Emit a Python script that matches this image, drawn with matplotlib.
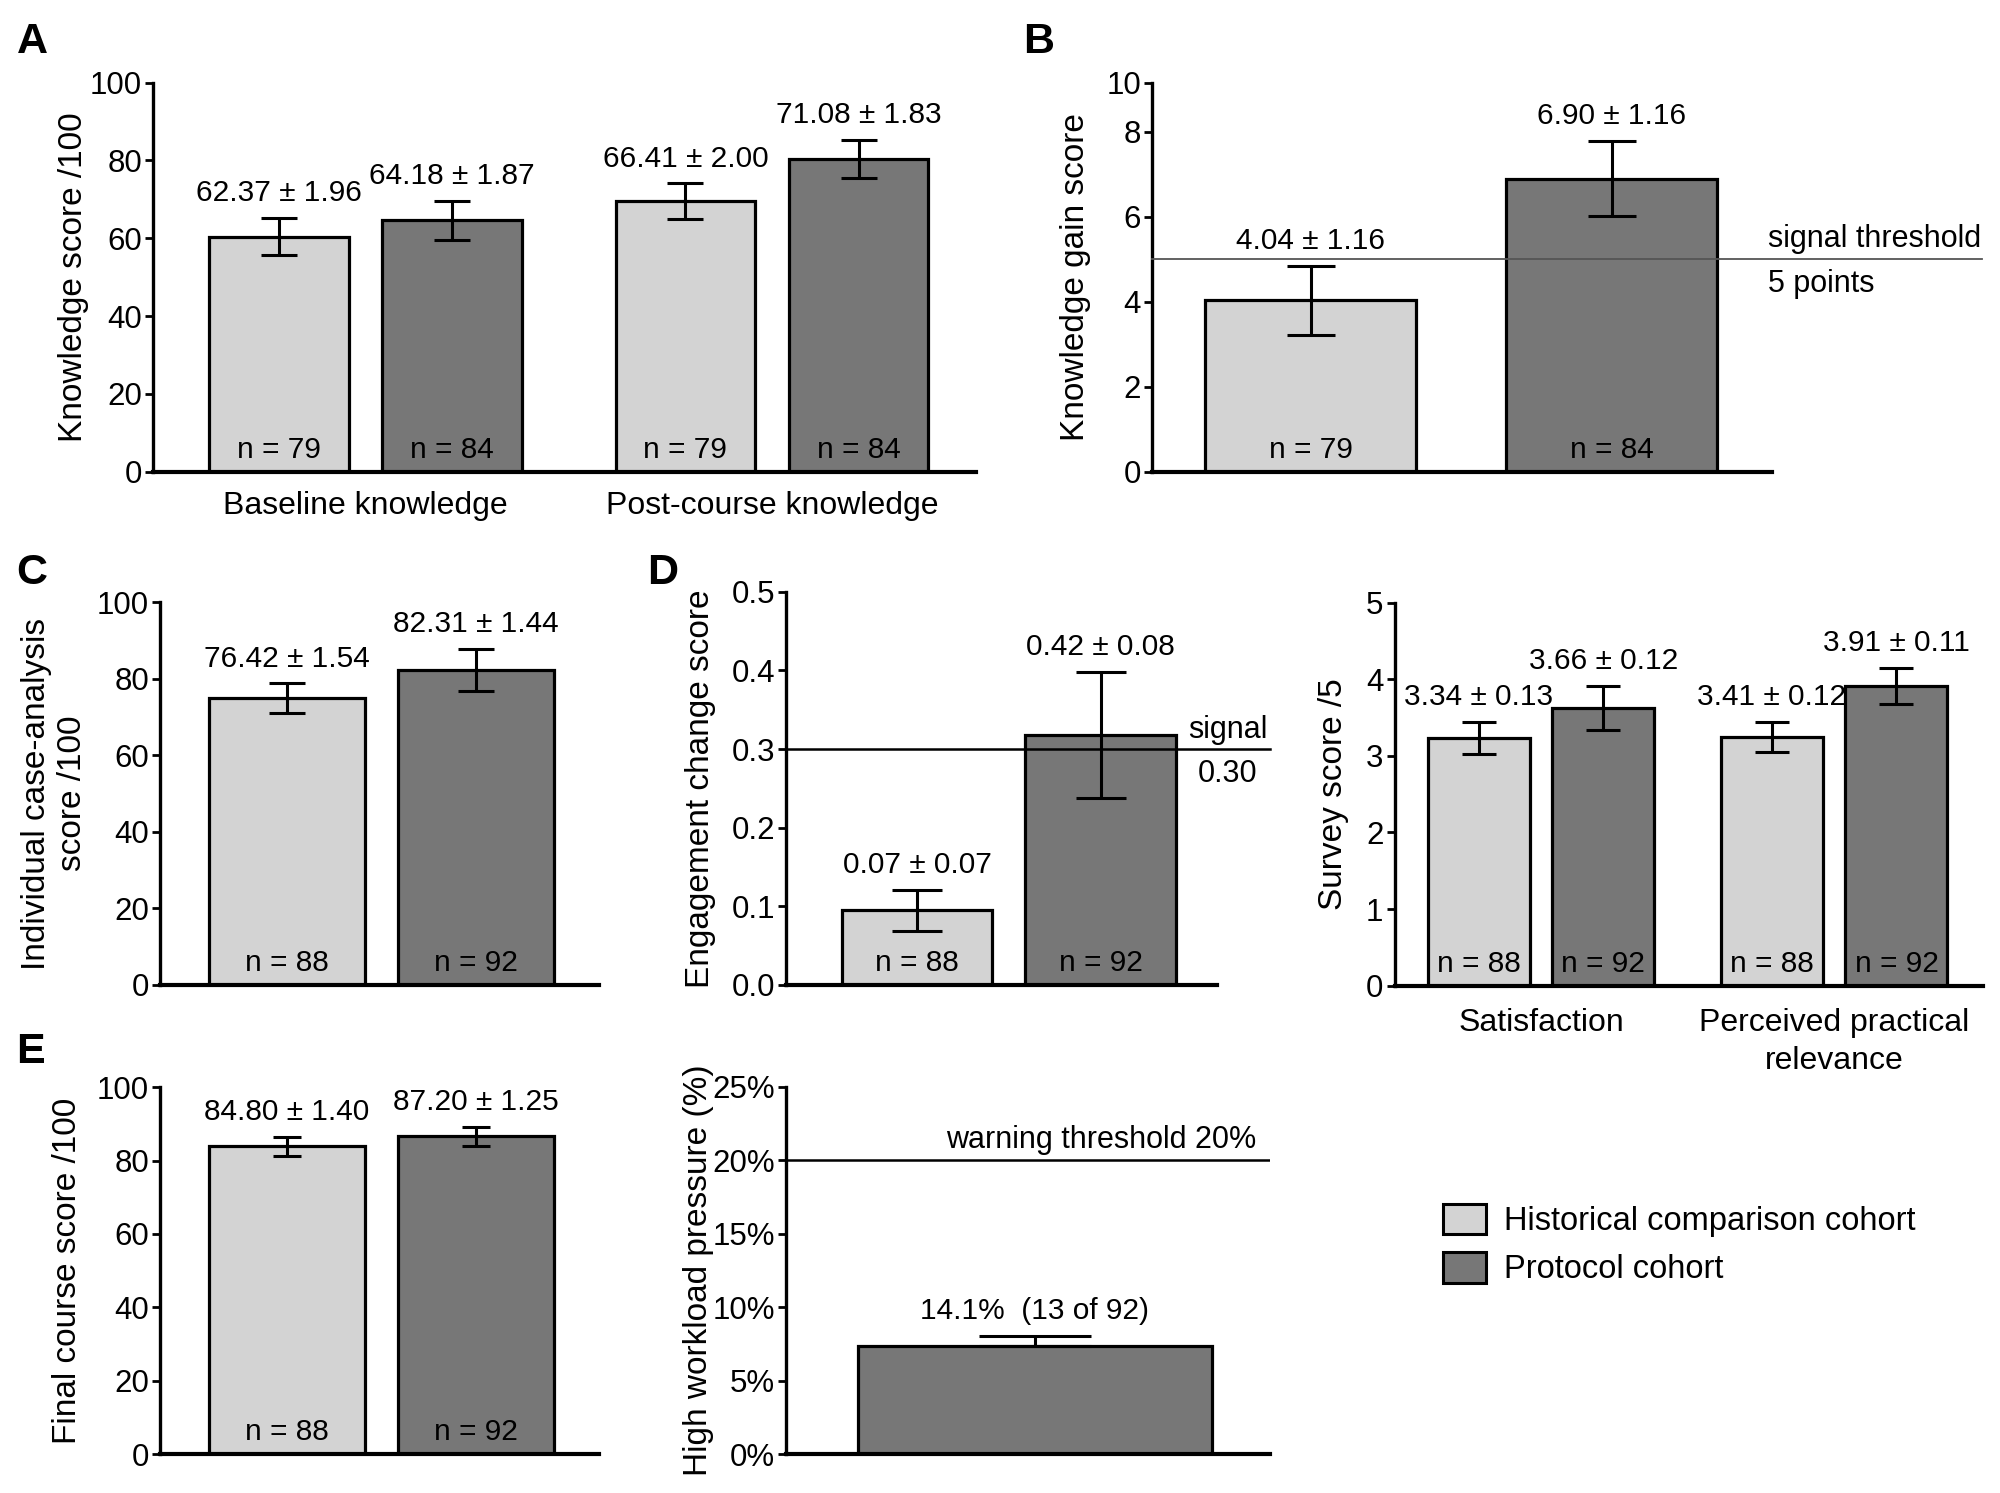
import matplotlib
matplotlib.use('Agg')
import matplotlib.pyplot as plt
from matplotlib.patches import Patch

plt.rcParams['font.family'] = ['Liberation Sans', 'DejaVu Sans']

W, H = 2000, 1493
HIST = '#d3d3d3'
PROT = '#777777'
cohorts = ['Historical comparison cohort', 'Protocol cohort']

# A - knowledge scores
a_groups = ['Baseline knowledge', 'Post-course knowledge']
a_hist = [60.4, 69.5]
a_prot = [64.6, 80.4]
a_hist_err = [4.8, 4.65]
a_prot_err = [5.0, 4.9]
a_hist_lab = ['62.37 ± 1.96', '66.41 ± 2.00']
a_prot_lab = ['64.18 ± 1.87', '71.08 ± 1.83']
a_hist_n = [79, 79]
a_prot_n = [84, 84]

# B - knowledge gain
b_vals = [4.04, 6.90]
b_err = [0.81, 0.89]
b_lab = ['4.04 ± 1.16', '6.90 ± 1.16']
b_n = [79, 84]
b_thr = 5

# C - case analysis
c_vals = [74.9, 82.3]
c_err = [3.95, 5.6]
c_lab = ['76.42 ± 1.54', '82.31 ± 1.44']
c_n = [88, 92]

# D - engagement change
d_vals = [0.095, 0.318]
d_err = [0.026, 0.08]
d_lab = ['0.07 ± 0.07', '0.42 ± 0.08']
d_n = [88, 92]
d_thr = 0.30

# D - survey
s_groups = ['Satisfaction', 'Perceived practical\nrelevance']
s_hist = [3.23, 3.25]
s_prot = [3.625, 3.91]
s_hist_err = [0.21, 0.195]
s_prot_err = [0.29, 0.235]
s_hist_lab = ['3.34 ± 0.13', '3.41 ± 0.12']
s_prot_lab = ['3.66 ± 0.12', '3.91 ± 0.11']
s_hist_n = [88, 88]
s_prot_n = [92, 92]

# E - final score
e_vals = [83.9, 86.7]
e_err = [2.55, 2.6]
e_lab = ['84.80 ± 1.40', '87.20 ± 1.25']
e_n = [88, 92]

# E - workload
w_val = 7.39
w_err_up = 0.68
w_lab = '14.1%  (13 of 92)'
w_thr = 20

fig = plt.figure(figsize=(20, 14.93), dpi=100)


def make_ax(l, r, t, b):
    ax = fig.add_axes([l / W, 1 - b / H, (r - l) / W, (b - t) / H])
    for s in ['top', 'right']:
        ax.spines[s].set_visible(False)
    ax.spines['left'].set_linewidth(2.4)
    ax.spines['bottom'].set_linewidth(3.0)
    ax.tick_params(axis='y', labelsize=22.5, width=2, length=6, pad=2)
    ax.tick_params(axis='x', labelsize=23, length=0, pad=14)
    return ax


def draw_bars(ax, xs, vals, errs, colors, width, labels, ns, capsize):
    ax.bar(xs, vals, width, color=colors, edgecolor='black', linewidth=2.3,
           yerr=errs, capsize=capsize,
           error_kw=dict(elinewidth=2.2, capthick=2.2, ecolor='black'))
    for i, x in enumerate(xs):
        if isinstance(errs[0], list):
            top = vals[i] + errs[1][i]
        else:
            top = vals[i] + errs[i]
        ax.annotate(labels[i], (x, top), xytext=(0, 12), textcoords='offset points',
                    ha='center', va='baseline', fontsize=21.5)
        if ns is not None:
            ax.annotate(f'n = {ns[i]}', (x, 0), xytext=(0, 10), textcoords='offset points',
                        ha='center', va='baseline', fontsize=21.5)


def ylab(ax, text, xc):
    ax.set_ylabel(text, fontsize=24)
    ax.yaxis.set_label_coords(xc, 0.5)


# ---- A ----
ax = make_ax(153, 976, 82.6, 471.8)
off = 0.213
w = 0.344
draw_bars(ax, [0 - off, 1 - off], a_hist, a_hist_err, HIST, w, a_hist_lab, a_hist_n, 13)
draw_bars(ax, [0 + off, 1 + off], a_prot, a_prot_err, PROT, w, a_prot_lab, a_prot_n, 13)
ax.set_xlim(-0.523, 1.502)
ax.set_ylim(0, 100)
ax.set_yticks([0, 20, 40, 60, 80, 100])
ax.set_xticks([0, 1])
ax.set_xticklabels(a_groups)
ylab(ax, 'Knowledge score /100', -0.078)

# ---- B ----
ax = make_ax(1152, 1772, 82.6, 471.8)
draw_bars(ax, [0, 1], b_vals, b_err, [HIST, PROT], 0.70, b_lab, b_n, 17)
ax.set_xlim(-0.527, 1.533)
ax.set_ylim(0, 9.16)
ax.set_yticks([0, 2, 4, 6, 8, 9.16])
ax.set_yticklabels(['0', '2', '4', '6', '8', '10'])
ax.set_xticks([])
ax.plot([-0.527, 2.23], [b_thr, b_thr], color='#555555', lw=1.3, clip_on=False, zorder=3)
ax.annotate('signal threshold', (1.52, b_thr), xytext=(0, 4), textcoords='offset points',
            ha='left', va='bottom', fontsize=22, annotation_clip=False)
ax.annotate('5 points', (1.52, b_thr), xytext=(0, -7), textcoords='offset points',
            ha='left', va='top', fontsize=22, annotation_clip=False)
ylab(ax, 'Knowledge gain score', -0.098)

# ---- C ----
ax = make_ax(160, 599, 602.3, 985)
draw_bars(ax, [0, 1], c_vals, c_err, [HIST, PROT], 0.828, c_lab, c_n, 13)
ax.set_xlim(-0.674, 1.654)
ax.set_ylim(0, 100)
ax.set_yticks([0, 20, 40, 60, 80, 100])
ax.set_xticks([])
ylab(ax, 'Individual case-analysis\nscore /100', -0.164)

# ---- D engagement ----
ax = make_ax(786, 1217, 591.7, 985)
draw_bars(ax, [0, 1], d_vals, d_err, [HIST, PROT], 0.819, d_lab, d_n, 18)
ax.set_xlim(-0.713, 1.633)
ax.set_ylim(0, 0.5)
ax.set_yticks([0, 0.1, 0.2, 0.3, 0.4, 0.5])
ax.set_yticklabels(['0.0', '0.1', '0.2', '0.3', '0.4', '0.5'])
ax.set_xticks([])
ax.plot([-0.713, 1.92], [d_thr, d_thr], color='black', lw=1.8, clip_on=False, zorder=3)
ax.annotate('signal', (1.693, d_thr), xytext=(0, 3), textcoords='offset points',
            ha='center', va='bottom', fontsize=22, annotation_clip=False)
ax.annotate('0.30', (1.693, d_thr), xytext=(0, -7), textcoords='offset points',
            ha='center', va='top', fontsize=22, annotation_clip=False)
ylab(ax, 'Engagement change score', -0.162)

# ---- D survey ----
ax = make_ax(1394.6, 1983, 602.5, 985.7)
off = 0.2126
w = 0.348
draw_bars(ax, [0 - off, 1 - off], s_hist, s_hist_err, HIST, w, s_hist_lab, s_hist_n, 12)
draw_bars(ax, [0 + off, 1 + off], s_prot, s_prot_err, PROT, w, s_prot_lab, s_prot_n, 12)
ax.set_xlim(-0.5, 1.508)
ax.set_ylim(0, 5)
ax.set_yticks([0, 1, 2, 3, 4, 5])
ax.set_xticks([0, 1])
ax.set_xticklabels(s_groups, linespacing=1.35)
ax.tick_params(axis='x', pad=16)
ylab(ax, 'Survey score /5', -0.0775)

# ---- E final ----
ax = make_ax(160, 599, 1087.3, 1454)
draw_bars(ax, [0, 1], e_vals, e_err, [HIST, PROT], 0.828, e_lab, e_n, 10)
ax.set_xlim(-0.674, 1.654)
ax.set_ylim(0, 100)
ax.set_yticks([0, 20, 40, 60, 80, 100])
ax.set_xticks([])
ylab(ax, 'Final course score /100', -0.175)

# ---- E workload ----
ax = make_ax(786, 1270, 1087, 1454)
draw_bars(ax, [0], [w_val], [[0], [w_err_up]], PROT, 1.0, [w_lab], None, 40)
ax.set_xlim(-0.703, 0.664)
ax.set_ylim(0, 25)
ax.set_yticks([0, 5, 10, 15, 20, 25])
ax.set_yticklabels(['0%', '5%', '10%', '15%', '20%', '25%'])
ax.set_xticks([])
ax.axhline(w_thr, color='black', lw=1.8)
ax.annotate('warning threshold 20%', (0.624, w_thr), xytext=(0, 4), textcoords='offset points',
            ha='right', va='bottom', fontsize=22)
ylab(ax, 'High workload pressure (%)', -0.149)

# panel letters
for letter, x, y in [('A', 17, 22), ('B', 1023, 22), ('C', 16, 553), ('D', 647, 553), ('E', 16, 1032)]:
    fig.text(x / W, 1 - y / H, letter, fontsize=31, fontweight='bold', ha='left', va='top')

handles = [Patch(facecolor=HIST, edgecolor='black', linewidth=2.2),
           Patch(facecolor=PROT, edgecolor='black', linewidth=2.2)]
fig.legend(handles, cohorts, loc='upper left', bbox_to_anchor=(1443 / W, 1 - 1204 / H),
           frameon=False, fontsize=23.5, borderpad=0, borderaxespad=0,
           handlelength=1.33, handleheight=1.06, handletextpad=0.55, labelspacing=0.45)

fig.savefig('out.png', dpi=100, facecolor='white')
